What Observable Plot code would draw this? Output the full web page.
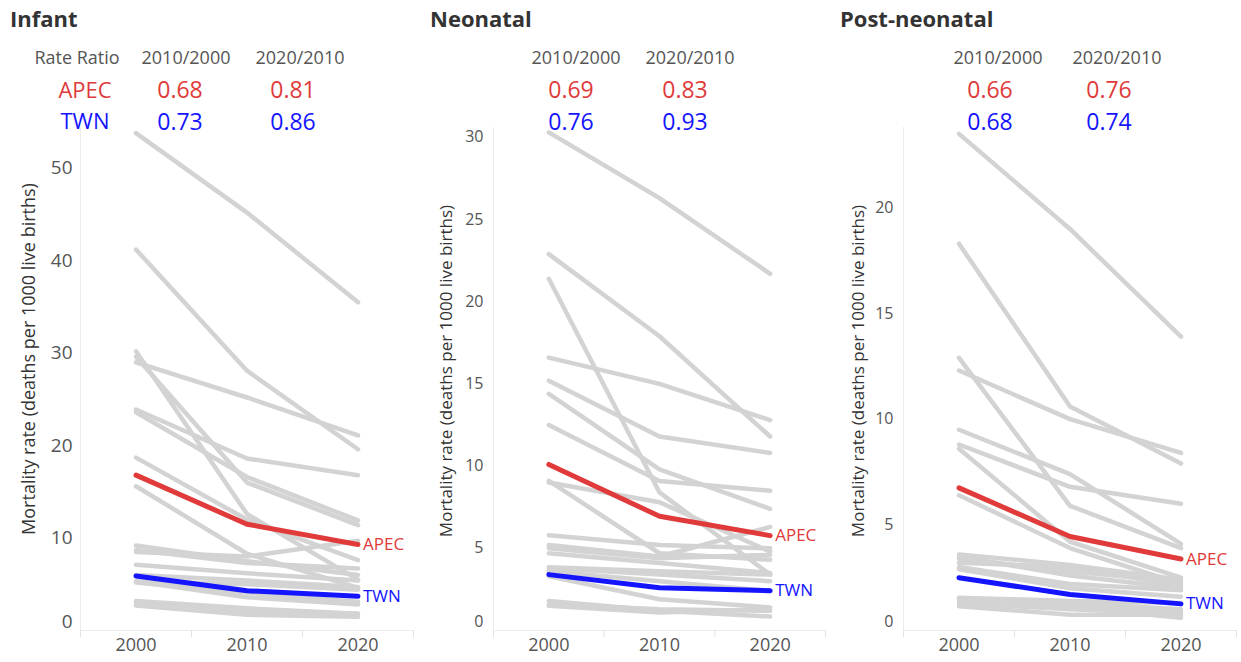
<!DOCTYPE html>
<html>
<head>
<meta charset="utf-8">
<script src="https://cdn.jsdelivr.net/npm/d3@7"></script>
<script src="https://cdn.jsdelivr.net/npm/@observablehq/plot@0.6"></script>
<style>
  html, body { margin: 0; padding: 0; background: #fff; }
  #root { position: relative; width: 1241px; height: 662px; overflow: hidden; font-family: "Open Sans", sans-serif; }
  .t { position: absolute; white-space: nowrap; transform: translate(-50%, -50%); z-index: 2; }
  .title { position: absolute; font-weight: 700; font-size: 22px; color: #333; z-index: 2; }
  .ylab { position: absolute; white-space: nowrap; transform: translate(-50%, -50%) rotate(-90deg); color: #333; z-index: 2; }
  .pl { position: absolute; top: 115px; }
  .pl svg { background: transparent !important; overflow: visible; }
</style>
</head>
<body>
<div id="root"></div>
<script>
// ---- data ----
const years = [2000, 2010, 2020];
const bandEdges = [1995, 2005, 2015, 2025];

const infantOthers = [
  [53.8, 45.2, 35.5],
  [41.2, 28.1, 19.6],
  [29.0, 25.2, 21.1],
  [29.6, 16.0, 11.4],
  [30.2, 12.6, 5.5],
  [23.9, 18.6, 16.8],
  [23.6, 16.6, 11.9],
  [18.7, 12.0, 7.6],
  [15.6, 8.3, 4.6],
  [8.5, 8.0, 9.7],
  [8.7, 7.3, 6.7],
  [9.2, 7.5, 6.0],
  [7.1, 6.2, 5.4],
  [6.0, 5.4, 4.7],
  [5.3, 5.0, 4.4],
  [5.2, 4.1, 3.1],
  [5.3, 3.6, 2.8],
  [3.2, 2.4, 1.8],
  [3.0, 2.1, 1.8],
  [2.7, 1.7, 1.5]
];
const infantApec = [16.8, 11.5, 9.3];
const infantTwn = [5.9, 4.3, 3.7];

const neonatalOthers = [
  [30.3, 26.3, 21.7],
  [22.9, 17.9, 11.8],
  [21.4, 8.4, 3.4],
  [16.6, 15.0, 12.8],
  [15.2, 11.8, 10.8],
  [14.4, 9.8, 7.4],
  [12.5, 9.1, 8.5],
  [9.1, 4.7, 4.3],
  [9.0, 7.8, 4.8],
  [5.8, 5.2, 5.0],
  [5.2, 4.5, 6.3],
  [5.0, 4.4, 4.6],
  [4.7, 4.1, 3.5],
  [3.85, 3.6, 3.4],
  [3.8, 3.4, 3.0],
  [3.6, 3.0, 2.4],
  [3.3, 1.9, 1.4],
  [1.8, 1.2, 0.85],
  [1.6, 1.3, 1.2],
  [1.5, 1.1, 1.3]
];
const neonatalApec = [10.1, 6.95, 5.77];
const neonatalTwn = [3.4, 2.6, 2.42];

const postOthers = [
  [23.5, 19.0, 13.9],
  [18.3, 10.6, 7.9],
  [12.3, 10.0, 8.4],
  [12.9, 5.9, 3.9],
  [9.5, 7.4, 4.1],
  [8.8, 6.8, 6.0],
  [8.6, 4.2, 2.5],
  [6.4, 3.9, 2.2],
  [3.6, 3.1, 2.4],
  [3.5, 2.6, 2.0],
  [3.4, 2.8, 2.3],
  [3.2, 3.0, 2.1],
  [3.0, 2.2, 1.9],
  [2.9, 2.0, 1.6],
  [1.55, 1.4, 1.3],
  [1.5, 1.1, 0.6],
  [1.45, 1.3, 1.0],
  [1.4, 1.2, 0.9],
  [1.3, 1.0, 0.8],
  [1.15, 0.75, 0.75]
];
const postApec = [6.75, 4.45, 3.38];
const postTwn = [2.5, 1.7, 1.26];

const ratioHeaders = ["2010/2000", "2020/2010"];
const infantApecRatios = ["0.68", "0.81"];
const infantTwnRatios = ["0.73", "0.86"];
const neonatalApecRatios = ["0.69", "0.83"];
const neonatalTwnRatios = ["0.76", "0.93"];
const postApecRatios = ["0.66", "0.76"];
const postTwnRatios = ["0.68", "0.74"];

const infantTicks = [0, 10, 20, 30, 40, 50];
const neonatalTicks = [0, 5, 10, 15, 20, 25, 30];
const postTicks = [0, 5, 10, 15, 20];

const panelTitles = ["Infant", "Neonatal", "Post-neonatal"];
const yTitle = "Mortality rate (deaths per 1000 live births)";

// ---- styling ----
const RED = "#e03a3a";
const BLUE = "#1414ff";
const GREY = "#d3d3d3";
const root = document.getElementById("root");

function addText(txt, x, y, size, color, cls = "t", extra = "") {
  const d = document.createElement("div");
  d.className = cls;
  d.textContent = txt;
  d.style.cssText += `left:${x}px;top:${y}px;font-size:${size}px;color:${color};${extra}`;
  root.appendChild(d);
  return d;
}

function toRows(arr, id) {
  return years.map((yr, i) => ({ year: yr, value: arr[i], id }));
}

function panel(cfg) {
  const grey = cfg.others.flatMap((a, k) => toRows(a, "e" + k));
  const apec = toRows(cfg.apec, "APEC");
  const twn = toRows(cfg.twn, "TWN");
  const axisStyle = { fill: "#555", fontSize: cfg.tickFont, tickSize: 0, tickPadding: cfg.tickPad, label: null };
  const chart = Plot.plot({
    width: cfg.width,
    height: 547,
    marginTop: 12,
    marginBottom: 32,
    marginLeft: cfg.marginLeft,
    marginRight: cfg.marginRight,
    style: { fontFamily: "Open Sans", background: "transparent", overflow: "visible" },
    x: { type: "linear", domain: [1995, 2025] },
    y: { domain: [0, cfg.yMax] },
    marks: [
      Plot.ruleX([1995], { stroke: "#ececec", strokeWidth: 1 }),
      Plot.ruleY([0], { stroke: "#ececec", strokeWidth: 1 }),
      Plot.axisX({ ticks: bandEdges, tickSize: 7, tickFormat: () => "", stroke: "#e2e2e2", label: null }),
      Plot.axisX({ ticks: years, tickSize: 0, tickPadding: 8, tickFormat: d => String(d), fontSize: 18, fill: "#555", label: null }),
      Plot.axisY({ ...axisStyle, ticks: cfg.ticks.filter(d => d > 0) }),
      Plot.axisY({ ...axisStyle, ticks: [0], dy: -9 }),
      Plot.line(grey, { x: "year", y: "value", z: "id", stroke: GREY, strokeWidth: 4.5, strokeLinecap: "round", strokeLinejoin: "round" }),
      Plot.line(apec, { x: "year", y: "value", stroke: RED, strokeWidth: 5, strokeLinecap: "round", strokeLinejoin: "round" }),
      Plot.line(twn, { x: "year", y: "value", stroke: BLUE, strokeWidth: 5, strokeLinecap: "round", strokeLinejoin: "round" }),
      Plot.text([apec[2]], { x: "year", y: "value", text: () => "APEC", textAnchor: "start", dx: 5, fill: RED, fontSize: 17 }),
      Plot.text([twn[2]], { x: "year", y: "value", text: () => "TWN", textAnchor: "start", dx: 5, fill: BLUE, fontSize: 17 })
    ]
  });
  const wrap = document.createElement("div");
  wrap.className = "pl";
  wrap.style.left = cfg.left + "px";
  wrap.appendChild(chart);
  root.appendChild(wrap);
}

panel({ left: 0, width: 420, marginLeft: 80, marginRight: 7, others: infantOthers, apec: infantApec, twn: infantTwn, yMax: 54.4, ticks: infantTicks, tickFont: 19, tickPad: 8 });
panel({ left: 420, width: 410, marginLeft: 73, marginRight: 5, others: neonatalOthers, apec: neonatalApec, twn: neonatalTwn, yMax: 30.6, ticks: neonatalTicks, tickFont: 16, tickPad: 10 });
panel({ left: 830, width: 411, marginLeft: 73, marginRight: 5, others: postOthers, apec: postApec, twn: postTwn, yMax: 23.8, ticks: postTicks, tickFont: 16, tickPad: 10 });

// titles
[[10, panelTitles[0]], [430, panelTitles[1]], [840, panelTitles[2]]].forEach(([x, t]) => {
  addText(t, x, 3, 22, "#333", "title");
});

// y-axis titles
addText(yTitle, 28, 359, 18, "#333", "ylab");
addText(yTitle, 445, 371, 17, "#333", "ylab");
addText(yTitle, 857, 371, 17, "#333", "ylab");

// rate ratio headers
const HDR = "#555";
addText("Rate Ratio", 77, 57, 18, HDR);
addText("APEC", 85, 89, 22, RED);
addText("TWN", 85, 120, 22, BLUE);

const hdrPos = [
  { cols: [186, 300], vals: [180, 293], apecR: infantApecRatios, twnR: infantTwnRatios },
  { cols: [576, 690], vals: [571, 685], apecR: neonatalApecRatios, twnR: neonatalTwnRatios },
  { cols: [998, 1117], vals: [990, 1109], apecR: postApecRatios, twnR: postTwnRatios }
];
hdrPos.forEach(p => {
  ratioHeaders.forEach((h, i) => addText(h, p.cols[i], 57, 18, HDR));
  p.apecR.forEach((v, i) => addText(v, p.vals[i], 89, 23, RED));
  p.twnR.forEach((v, i) => addText(v, p.vals[i], 121, 23, BLUE));
});
</script>
</body>
</html>
